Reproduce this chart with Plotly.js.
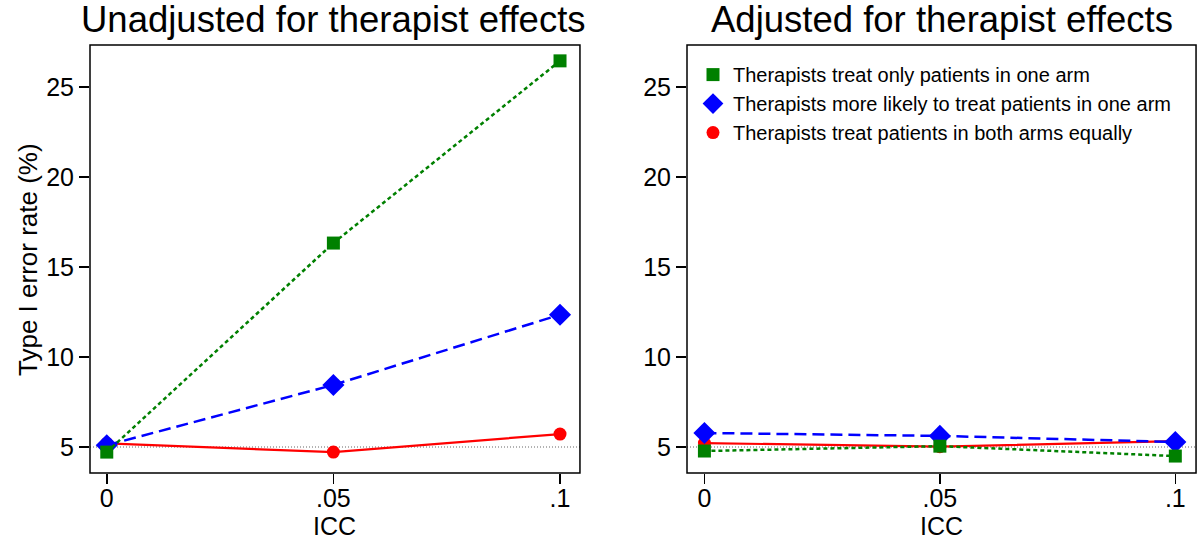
<!DOCTYPE html>
<html><head><meta charset="utf-8">
<script src="https://cdn.plot.ly/plotly-3.0.1.min.js"></script>
<style>html,body{margin:0;padding:0;background:#fff}#chart{width:1200px;height:551px}</style>
</head><body><div id="chart"></div>
<script>
const icc = [0, 0.05, 0.1];
const iccLabels = ['0', '.05', '.1'];
const yTicks = [5, 10, 15, 20, 25];
const seriesNames = ['Therapists treat only patients in one arm', 'Therapists more likely to treat patients in one arm', 'Therapists treat patients in both arms equally'];
const unadjOnlyOne = [4.72, 16.33, 26.45];
const unadjMoreLikely = [5.1, 8.45, 12.35];
const unadjBoth = [5.2, 4.72, 5.72];
const adjOnlyOne = [4.78, 5.05, 4.5];
const adjMoreLikely = [5.78, 5.62, 5.28];
const adjBoth = [5.22, 5.02, 5.33];
const nominalRate = 5;
const titles = ['Unadjusted for therapist effects', 'Adjusted for therapist effects'];

const GREEN = '#008000', BLUE = '#0000ff', RED = '#ff0000';
const styles = [
  {color: GREEN, dash: '4px,3px', width: 2.5, symbol: 'square', size: 13},
  {color: BLUE, dash: '12px,6px', width: 2.5, symbol: 'diamond', size: 17},
  {color: RED, dash: 'solid', width: 2.2, symbol: 'circle', size: 13}
];
function tr(y, i, xa, ya) {
  const s = styles[i];
  return {x: icc, y: y, xaxis: xa, yaxis: ya, mode: 'lines+markers', showlegend: false,
    line: {color: s.color, dash: s.dash, width: s.width},
    marker: {color: s.color, symbol: s.symbol, size: s.size}, name: seriesNames[i]};
}
const data = [
  tr(unadjBoth, 2, 'x', 'y'), tr(unadjMoreLikely, 1, 'x', 'y'), tr(unadjOnlyOne, 0, 'x', 'y'),
  tr(adjBoth, 2, 'x2', 'y2'), tr(adjMoreLikely, 1, 'x2', 'y2'), tr(adjOnlyOne, 0, 'x2', 'y2')
];
[0,1,2].forEach(i => {
  const s = styles[i];
  data.push({x: [null], y: [null], xaxis: 'x2', yaxis: 'y2', mode: 'markers', name: seriesNames[i],
    marker: {color: s.color, symbol: s.symbol, size: s.size}, showlegend: true});
});

const font = {family: 'Liberation Sans, Arial, sans-serif', color: '#000'};
const xax = (dom) => ({domain: dom, range: [-0.0037, 0.1044], tickvals: icc, ticktext: iccLabels,
  ticks: 'outside', ticklen: 10, tickwidth: 1.5, tickcolor: '#000', showgrid: false, zeroline: false,
  showline: false, tickfont: {size: 25}, ticklabelstandoff: -7, fixedrange: true});
const yax = (anchor) => ({domain: [0.1416, 0.9183], range: [3.56, 27.33], tickvals: yTicks,
  ticks: 'outside', ticklen: 10, tickwidth: 1.5, tickcolor: '#000', showgrid: false, zeroline: false,
  showline: false, tickfont: {size: 25}, anchor: anchor, fixedrange: true});

const shapes = [];
[['x', 'y'], ['x2', 'y2']].forEach(([xa, ya]) => {
  shapes.push({type: 'line', xref: xa + ' domain', yref: ya, x0: 0, x1: 1, y0: nominalRate, y1: nominalRate,
    line: {color: '#999', width: 1.5, dash: '1px,2px'}, layer: 'below'});
  shapes.push({type: 'rect', xref: xa + ' domain', yref: ya + ' domain', x0: 0, x1: 1, y0: 0, y1: 1,
    line: {color: '#000', width: 1.5}});
});

const layout = {
  width: 1200, height: 551, margin: {l: 0, r: 0, t: 0, b: 0},
  paper_bgcolor: '#fff', plot_bgcolor: '#fff', font: font,
  xaxis: Object.assign(xax([0.075, 0.4833]), {anchor: 'y'}),
  yaxis: yax('x'),
  xaxis2: Object.assign(xax([0.5725, 0.9967]), {anchor: 'y2'}),
  yaxis2: yax('x2'),
  shapes: shapes,
  showlegend: true,
  legend: {x: 0.5775, y: 0.9, xanchor: 'left', yanchor: 'top', font: {size: 20}, bgcolor: 'rgba(0,0,0,0)',
    tracegroupgap: 0, itemsizing: 'trace', itemwidth: 30},
  annotations: [
    {text: titles[0], x: 0.2775, y: 1 - 20/551, xref: 'paper', yref: 'paper', showarrow: false, font: {size: 36.5}, xanchor: 'center', yanchor: 'middle'},
    {text: titles[1], x: 0.7846, y: 1 - 20/551, xref: 'paper', yref: 'paper', showarrow: false, font: {size: 36.5}, xanchor: 'center', yanchor: 'middle'},
    {text: 'ICC', x: 0.279, y: 1 - 526/551, xref: 'paper', yref: 'paper', showarrow: false, font: {size: 25}, xanchor: 'center', yanchor: 'middle'},
    {text: 'ICC', x: 0.7846, y: 1 - 526/551, xref: 'paper', yref: 'paper', showarrow: false, font: {size: 25}, xanchor: 'center', yanchor: 'middle'},
    {text: 'Type I error rate (%)', x: 28/1200, y: 1 - 260/551, xref: 'paper', yref: 'paper', showarrow: false, font: {size: 26}, textangle: -90, xanchor: 'center', yanchor: 'middle'}
  ]
};
Plotly.newPlot('chart', data, layout, {displayModeBar: false, staticPlot: true});
</script></body></html>
